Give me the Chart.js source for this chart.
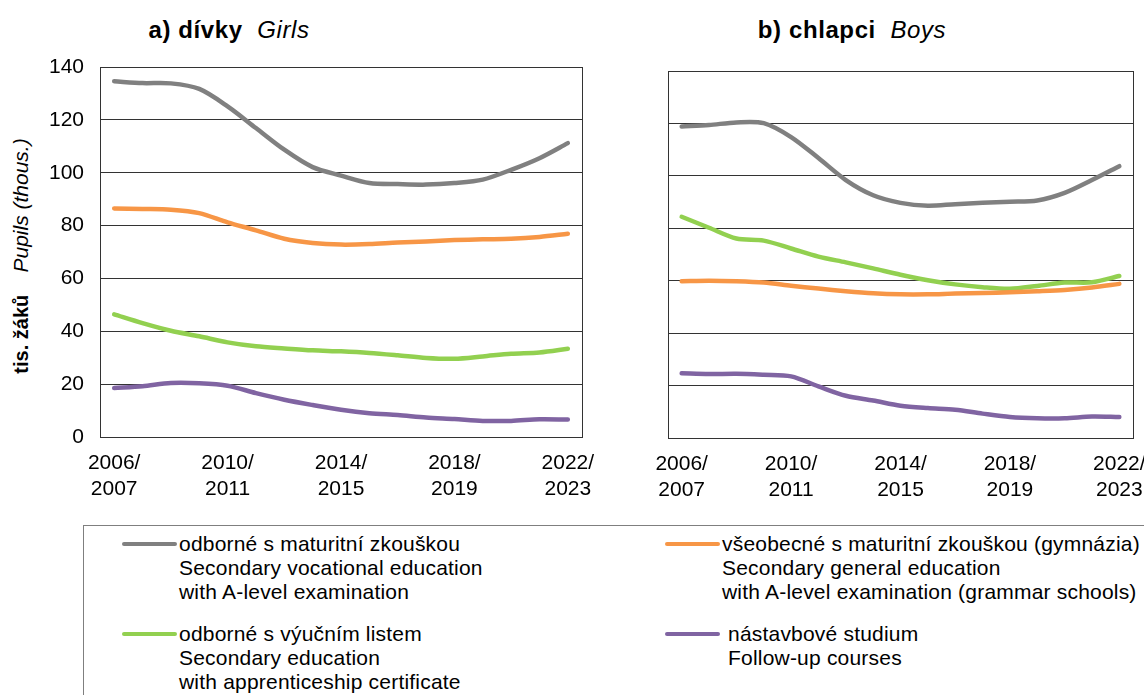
<!DOCTYPE html>
<html>
<head>
<meta charset="utf-8">
<script src="https://cdn.jsdelivr.net/npm/chart.js@4.4.0/dist/chart.umd.min.js"></script>
<style>
body { margin:0; background:#fff; width:1144px; height:695px; overflow:hidden; position:relative;
       font-family:"Liberation Sans", Arial, sans-serif; color:#000; }
.box { position:absolute; top:0; height:520px; }
.title { position:absolute; top:16px; font-size:24px; white-space:pre; transform:translateX(-50%); letter-spacing:0.6px; }
.title b { font-weight:bold; }
.ytitle { position:absolute; left:21px; top:256px; font-size:20px; white-space:pre;
          transform:translate(-50%,-50%) rotate(-90deg); }
.ytitle i { font-size:21px; }
#legend { position:absolute; left:83px; top:525px; width:1100px; height:200px; border:1px solid #7f7f7f; box-sizing:border-box; }
.item { position:absolute; font-size:21px; line-height:24px; white-space:pre; letter-spacing:0.2px; }
.item .sw { position:absolute; left:0; top:10px; width:55px; height:4px; border-radius:2px; }
.item .tx { position:absolute; left:57px; top:0; }
</style>
</head>
<body>
<div class="title" style="left:229px"><b>a) dívky</b>  <i>Girls</i></div>
<div class="title" style="left:852px"><b>b) chlapci</b>  <i>Boys</i></div>
<div class="ytitle"><b>tis. žáků</b>    <i>Pupils (thous.)</i></div>
<div class="box" style="left:0;width:600px"><canvas id="girls"></canvas></div>
<div class="box" style="left:600px;width:544px"><canvas id="boys"></canvas></div>
<div id="legend"></div>
<script>
const years = ['2006/2007','2007/2008','2008/2009','2009/2010','2010/2011','2011/2012','2012/2013','2013/2014',
  '2014/2015','2015/2016','2016/2017','2017/2018','2018/2019','2019/2020','2020/2021','2021/2022','2022/2023'];
const yTicks = [0, 20, 40, 60, 80, 100, 120, 140];

const seriesCz = ['odborné s maturitní zkouškou', 'všeobecné s maturitní zkouškou (gymnázia)',
  'odborné s výučním listem', ' nástavbové studium'];
const seriesEn = [['Secondary vocational education', 'with A-level examination'],
  ['Secondary general education', 'with A-level examination (grammar schools)'],
  ['Secondary education', 'with apprenticeship certificate'],
  [' Follow-up courses']];
const colors = ['#808080', '#f79646', '#92d050', '#8064a2'];

// dívky / Girls (thous.)
const girlsVoc = [134.6, 133.9, 133.8, 131.7, 125.1, 116.9, 108.7, 102.1, 98.9, 96.1, 95.7, 95.5, 96.1, 97.4, 101.1, 105.5, 111.2];
const girlsGen = [86.5, 86.3, 86.0, 84.7, 81.2, 78.2, 75.0, 73.4, 72.8, 73.0, 73.6, 74.0, 74.5, 74.8, 75.0, 75.7, 76.9];
const girlsApp = [46.4, 43.1, 40.2, 38.1, 35.8, 34.3, 33.5, 32.8, 32.4, 31.8, 30.9, 29.9, 29.6, 30.5, 31.5, 32.0, 33.4];
const girlsFol = [18.5, 19.2, 20.4, 20.3, 19.4, 16.6, 14.1, 12.1, 10.3, 9.0, 8.3, 7.4, 6.8, 6.1, 6.1, 6.7, 6.6];

// chlapci / Boys (thous.)
const boysVoc = [118.8, 119.4, 120.4, 120.1, 114.8, 106.8, 98.4, 92.6, 89.7, 88.6, 89.2, 89.7, 90.1, 90.6, 93.5, 98.4, 103.7];
const boysGen = [59.8, 60.0, 59.8, 59.3, 58.1, 57.0, 56.0, 55.2, 54.8, 54.8, 55.1, 55.3, 55.6, 56.0, 56.5, 57.4, 58.8];
const boysApp = [84.4, 80.2, 76.1, 75.3, 72.3, 69.2, 67.0, 64.7, 62.3, 60.2, 58.6, 57.5, 56.9, 58.0, 59.3, 59.4, 61.8];
const boysFol = [24.7, 24.4, 24.5, 24.1, 23.5, 19.7, 16.1, 14.3, 12.3, 11.4, 10.8, 9.3, 8.0, 7.5, 7.5, 8.2, 8.0];

Chart.defaults.font.family = '"Liberation Sans", Arial, sans-serif';
Chart.defaults.color = '#000';

const lineCol = '#333333';

// frame round the plot area
const framePlugin = {
  id: 'frame',
  beforeDatasetsDraw(chart) {
    const a = chart.chartArea, ctx = chart.ctx;
    ctx.save();
    ctx.strokeStyle = lineCol;
    ctx.lineWidth = 1;
    ctx.strokeRect(Math.round(a.left) + 0.5, Math.round(a.top) + 0.5, Math.round(a.right - a.left), Math.round(a.bottom - a.top));
    ctx.restore();
  }
};

function makeChart(id, values, opt) {
  const datasets = values.map(function(v, i) {
    return {
      label: seriesCz[i],
      data: v,
      borderColor: colors[i],
      backgroundColor: colors[i],
      borderWidth: 4.5,
      pointRadius: 0,
      tension: 0.3,
      borderCapStyle: 'round',
      borderJoinStyle: 'round'
    };
  });
  return new Chart(document.getElementById(id), {
    type: 'line',
    data: { labels: years, datasets: datasets },
    plugins: [framePlugin],
    options: {
      responsive: true,
      maintainAspectRatio: false,
      animation: false,
      layout: { padding: opt.padding },
      plugins: { legend: { display: false }, tooltip: { enabled: false } },
      scales: {
        x: {
          offset: true,
          grid: { display: false },
          border: { display: true, color: lineCol },
          ticks: {
            autoSkip: false,
            maxRotation: 0,
            padding: 6,
            font: { size: 21 },
            callback: function(val, idx) {
              if (idx % 4 !== 0) return '';
              const p = years[idx].split('/');
              return [p[0] + '/', p[1]];
            }
          },
          afterFit: function(s) { s.height = opt.xHeight; s.paddingLeft = 0; s.paddingRight = 0; }
        },
        y: {
          min: 0, max: 140,
          afterBuildTicks: function(s) { s.ticks = yTicks.map(function(v) { return { value: v }; }); },
          grid: { color: lineCol, lineWidth: 1, drawTicks: false },
          border: { display: true, color: lineCol },
          ticks: { display: opt.showY, padding: 16, font: { size: 21 } },
          afterFit: function(s) { s.width = opt.yWidth; s.paddingTop = 0; s.paddingBottom = 0; }
        }
      }
    }
  });
}

makeChart('girls', [girlsVoc, girlsGen, girlsApp, girlsFol],
  { padding: { left: 0, top: 67, right: 18, bottom: 0 }, xHeight: 83, yWidth: 100, showY: true });
makeChart('boys', [boysVoc, boysGen, boysApp, boysFol],
  { padding: { left: 0, top: 71, right: 11, bottom: 0 }, xHeight: 82, yWidth: 68, showY: false });

// legend built from the series arrays
const legendPos = [[38, 6], [581, 6], [38, 96], [581, 96]];
const leg = document.getElementById('legend');
seriesCz.forEach(function(name, i) {
  const it = document.createElement('div');
  it.className = 'item';
  it.style.left = legendPos[i][0] + 'px';
  it.style.top = legendPos[i][1] + 'px';
  const sw = document.createElement('div');
  sw.className = 'sw';
  sw.style.background = colors[i];
  const tx = document.createElement('div');
  tx.className = 'tx';
  tx.textContent = [name].concat(seriesEn[i]).join('\n');
  it.appendChild(sw);
  it.appendChild(tx);
  leg.appendChild(it);
});
</script>
</body>
</html>
